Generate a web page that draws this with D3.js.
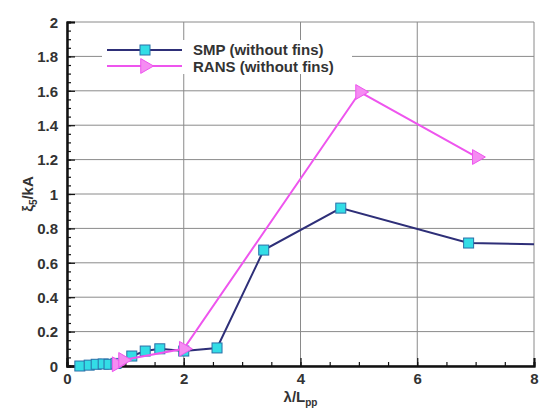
<!DOCTYPE html>
<html>
<head>
<meta charset="utf-8">
<script src="https://cdn.jsdelivr.net/npm/d3@7/dist/d3.min.js"></script>
<style>
  body { margin: 0; background: #fff; }
  text { font-family: "Liberation Sans", Arial, sans-serif; }
</style>
</head>
<body>
<div id="app"></div>
<script>
// data
const smpX = [0.22, 0.38, 0.5, 0.62, 0.72, 0.84, 1.11, 1.34, 1.59, 2.0, 2.57, 3.37, 4.69, 6.88];
const smpY = [0.0, 0.005, 0.01, 0.012, 0.01, 0.015, 0.058, 0.087, 0.1, 0.087, 0.105, 0.674, 0.918, 0.715];
const smpTailX = [6.88, 8.0];
const smpTailY = [0.715, 0.708];
const ransX = [0.85, 0.96, 2.0, 5.02, 7.02];
const ransY = [0.01, 0.035, 0.1, 1.593, 1.215];
const xTicks = [0, 2, 4, 6, 8];
const yTicks = [0, 0.2, 0.4, 0.6, 0.8, 1, 1.2, 1.4, 1.6, 1.8, 2];

const W = 542, H = 411;
const margin = { left: 67, right: 8, top: 22, bottom: 45 };

const svg = d3.select('#app').append('svg')
  .attr('width', W).attr('height', H);

const x = d3.scaleLinear().domain([0, 8]).range([margin.left, W - margin.right]);
const y = d3.scaleLinear().domain([0, 2]).range([H - margin.bottom, margin.top]);

// grid
svg.append('g').selectAll('line').data(yTicks).join('line')
  .attr('x1', x(0)).attr('x2', x(8))
  .attr('y1', d => y(d)).attr('y2', d => y(d))
  .attr('stroke', '#8a8a8a').attr('stroke-width', 1);
svg.append('g').selectAll('line').data(xTicks).join('line')
  .attr('y1', y(0)).attr('y2', y(2))
  .attr('x1', d => x(d)).attr('x2', d => x(d))
  .attr('stroke', '#8a8a8a').attr('stroke-width', 1);

// axes with inward ticks
const xAxis = svg.append('g').attr('transform', `translate(0,${y(0)})`)
  .call(d3.axisBottom(x).tickValues(xTicks).tickSize(-8).tickPadding(9).tickFormat(d3.format('d')));
const xMinor = svg.append('g').attr('transform', `translate(0,${y(0)})`)
  .call(d3.axisBottom(x).tickValues(d3.range(0, 8.01, 0.5)).tickSize(-4).tickFormat(''));
const yAxis = svg.append('g').attr('transform', `translate(${x(0)},0)`)
  .call(d3.axisLeft(y).tickValues(yTicks).tickSize(-8).tickPadding(9).tickFormat(d => d3.format('~g')(d)));
const yMinor = svg.append('g').attr('transform', `translate(${x(0)},0)`)
  .call(d3.axisLeft(y).tickValues(d3.range(0, 2.001, 0.05)).tickSize(-4).tickFormat(''));

[xAxis, xMinor, yAxis, yMinor].forEach(a => {
  a.select('.domain').attr('stroke', '#111').attr('stroke-width', 2);
  a.selectAll('.tick line').attr('stroke', '#111').attr('stroke-width', 1.2);
  a.selectAll('text').attr('font-size', 15).attr('font-weight', 'bold').attr('fill', '#333');
});
yAxis.selectAll('.tick text').attr('dy', '0.35em');
xAxis.selectAll('.tick text').attr('dy', '0.6em');

// axis titles
svg.append('text')
  .attr('x', x(4)).attr('y', H - 9)
  .attr('text-anchor', 'middle')
  .attr('font-size', 15).attr('font-weight', 'bold').attr('fill', '#333')
  .call(t => {
    t.append('tspan').text('λ/L');
    t.append('tspan').attr('font-size', 10).attr('dy', 4).text('pp');
  });
svg.append('text')
  .attr('transform', `translate(33,${y(1)}) rotate(-90)`)
  .attr('text-anchor', 'middle')
  .attr('font-size', 15).attr('font-weight', 'bold').attr('fill', '#333')
  .call(t => {
    t.append('tspan').text('ξ');
    t.append('tspan').attr('font-size', 10).attr('dy', 4).text('5');
    t.append('tspan').attr('dy', -4).text('/kA');
  });

const line = d3.line().x(d => x(d[0])).y(d => y(d[1]));
const smp = d3.zip(smpX, smpY);
const smpTail = d3.zip(smpTailX, smpTailY);
const rans = d3.zip(ransX, ransY);

const smpColor = '#2e2f78', ransColor = '#ee55ee';
const sq = 10;
const tri = d3.symbol().type(d3.symbolTriangle).size(95);

function drawSquare(g, px, py) {
  g.append('rect')
    .attr('x', px - sq / 2).attr('y', py - sq / 2)
    .attr('width', sq).attr('height', sq)
    .attr('fill', '#33dde6').attr('stroke', '#2b6fa8').attr('stroke-width', 1);
}
function drawTri(g, px, py) {
  g.append('path').attr('d', tri)
    .attr('transform', `translate(${px},${py}) rotate(90)`)
    .attr('fill', '#f58cf2').attr('stroke', ransColor).attr('stroke-width', 1);
}

svg.append('path').datum(smp.concat(smpTail.slice(1)))
  .attr('d', line).attr('fill', 'none').attr('stroke', smpColor).attr('stroke-width', 2);
const smpPts = svg.append('g');
smp.forEach(d => drawSquare(smpPts, x(d[0]), y(d[1])));

svg.append('path').datum(rans)
  .attr('d', line).attr('fill', 'none').attr('stroke', ransColor).attr('stroke-width', 2);
const ransPts = svg.append('g');
rans.forEach(d => drawTri(ransPts, x(d[0]), y(d[1])));

// legend
const lg = svg.append('g');
lg.append('rect').attr('x', 102).attr('y', 40).attr('width', 250).attr('height', 34).attr('fill', '#fff');
lg.append('line').attr('x1', 107).attr('x2', 182).attr('y1', 50).attr('y2', 50)
  .attr('stroke', smpColor).attr('stroke-width', 2);
drawSquare(lg, 145, 50);
lg.append('line').attr('x1', 107).attr('x2', 182).attr('y1', 66).attr('y2', 66)
  .attr('stroke', ransColor).attr('stroke-width', 2);
drawTri(lg, 145, 66);
lg.append('text').attr('x', 193).attr('y', 55).attr('font-size', 15).attr('font-weight', 'bold')
  .attr('fill', '#333').text('SMP (without fins)');
lg.append('text').attr('x', 193).attr('y', 72).attr('font-size', 15).attr('font-weight', 'bold')
  .attr('fill', '#333').text('RANS (without fins)');
</script>
</body>
</html>
